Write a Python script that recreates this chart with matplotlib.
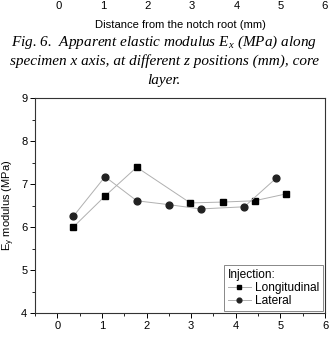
import matplotlib
matplotlib.use("Agg")
import matplotlib.pyplot as plt
from matplotlib.ticker import MultipleLocator

plt.rcParams['font.family'] = ['Liberation Sans', 'DejaVu Sans']

# data
x_long = [0.36, 1.07, 1.78, 2.98, 3.71, 4.42, 5.13]
y_long = [6.00, 6.72, 7.39, 6.56, 6.58, 6.61, 6.77]
x_lat = [0.36, 1.07, 1.78, 2.50, 3.21, 4.19, 4.91]
y_lat = [6.25, 7.17, 6.61, 6.52, 6.42, 6.47, 7.14]
series_names = ['Longitudinal', 'Lateral']
top_ticks = [0, 1, 2, 3, 4, 5, 6]

W, H = 329, 338
fig = plt.figure(figsize=(W / 100, H / 100), dpi=100)

def px(l, t, r, b):
    return [l / W, 1 - b / H, (r - l) / W, (b - t) / H]

# leftover strip of the previous figure (its x axis, cut off at the top)
top = fig.add_axes(px(36.8, -120, 325, -1.5))
top.set_xlim(-0.5, 6)
top.set_ylim(0, 1)
for s in top.spines.values():
    s.set_visible(False)
top.set_yticks([])
top.set_xticks(top_ticks)
top.tick_params(axis='x', length=0, pad=1.5, labelsize=8.1)
top.set_xlabel('Distance from the notch root (mm)', fontsize=8.1, labelpad=6.5)
top.patch.set_alpha(0)

# caption
cap = dict(ha='center', va='center', fontsize=11, family='Liberation Serif', style='italic')
fig.text(164 / W, 1 - 42.5 / H, r'Fig. 6.  Apparent elastic modulus E$_\mathregular{x}$ (MPa) along', **cap)
fig.text(164 / W, 1 - 61.5 / H, 'specimen x axis, at different z positions (mm), core', **cap)
fig.text(164 / W, 1 - 80.5 / H, 'layer.', **cap)

ax = fig.add_axes(px(35, 98, 325, 313))
ax.plot(x_long, y_long, color='#b0b0b0', lw=0.7, marker='s', ms=4.5,
        mfc='black', mec='black', label=series_names[0])
ax.plot(x_lat, y_lat, color='#b0b0b0', lw=0.7, marker='o', ms=4.9,
        mfc='#222222', mec='#222222', label=series_names[1])
ax.set_xlim(-0.5, 6)
ax.set_ylim(4, 9)
ax.xaxis.set_major_locator(MultipleLocator(1))
ax.xaxis.set_minor_locator(MultipleLocator(0.5))
ax.yaxis.set_major_locator(MultipleLocator(1))
ax.yaxis.set_minor_locator(MultipleLocator(0.5))
ax.tick_params(which='major', direction='out', length=3.5, width=0.7, labelsize=8, pad=2)
ax.tick_params(which='minor', direction='out', length=2, width=0.6)
for s in ax.spines.values():
    s.set_linewidth(0.8)
    s.set_color('#333333')
ax.set_ylabel(r'E$_\mathregular{y}$ modulus (MPa)', fontsize=8, labelpad=3)

leg = ax.legend(loc='lower right', title='Injection:', fontsize=8.6, title_fontsize=8.6,
                fancybox=False, edgecolor='#888888', framealpha=1, borderaxespad=0.2,
                handlelength=1.9, handletextpad=0.35, borderpad=0.3, labelspacing=0.1,
                markerscale=0.7)
leg._legend_box.align = 'left'
leg.get_frame().set_linewidth(0.7)

fig.savefig('out.png', dpi=100)
